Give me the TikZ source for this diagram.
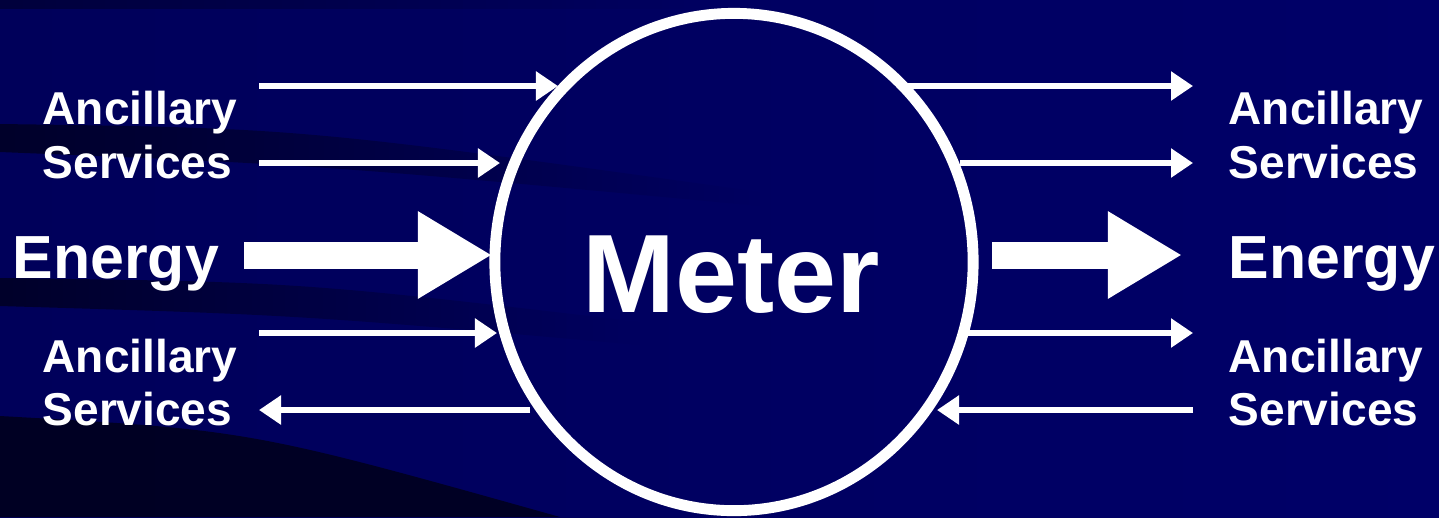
\documentclass[tikz,border=0pt]{standalone}
\usepackage{fontspec}
\setmainfont{Liberation Sans}
\usetikzlibrary{arrows.meta,shapes.geometric,fadings,positioning}
\definecolor{slidebgL}{HTML}{00005A}
\definecolor{slidebgR}{HTML}{000068}
\definecolor{streak}{HTML}{00001E}
\tikzset{
  lbl/.style={text=white,font=\bfseries\fontsize{13.1}{15}\selectfont,inner sep=0pt,anchor=base west},
  biglbl/.style={lbl,font=\bfseries\fontsize{17.3}{20}\selectfont},
  flow/.style={draw=white,line width=1.7pt,-{Triangle[length=2.2mm,width=2.8mm]}},
  bigflow/.style={draw=white,line width=2.7mm,-{Triangle[length=7.4mm,width=8.2mm]}},
}

\begin{document}
\begin{tikzpicture}[x=0.01cm,y=-0.01cm]

% background and streaks
\shade[left color=slidebgL,right color=slidebgR] (0,0) rectangle (1439,517);
\useasboundingbox (0,0) rectangle (1439,517);
\fill[streak,opacity=0.5,path fading=east] (0,0) rectangle (700,9);
\fill[streak,opacity=0.8,path fading=east] (0,124) .. controls (300,128) .. (760,192)
  -- (760,206) .. controls (320,165) .. (0,152) -- cycle;
\fill[streak,opacity=0.8,path fading=east] (0,278) .. controls (300,282) .. (640,322)
  -- (640,345) .. controls (300,315) .. (0,306) -- cycle;
\fill[streak,opacity=0.9] (0,416) .. controls (250,430) .. (560,517) -- (0,517) -- cycle;

% the meter
\node[ellipse,draw=white,line width=3.1pt,minimum width=4.78cm,minimum height=4.97cm,inner sep=0pt] (meter) at (734,262) {};
\node[text=white,font=\bfseries\fontsize{31.7}{36}\selectfont,inner sep=0pt,anchor=base] (mtext) at (731,312) {Meter};

% labels, left
\node[lbl] (ancL1) at (42,124) {Ancillary};
\node[lbl] (srvL1) at (42,178) {Services};
\node[biglbl] (enL) at (12,278) {Energy};
\node[lbl] (ancL2) at (42,372) {Ancillary};
\node[lbl] (srvL2) at (42,425) {Services};

% labels, right
\node[lbl] (ancR1) at (1228,124) {Ancillary};
\node[lbl] (srvR1) at (1228,178) {Services};
\node[biglbl] (enR) at (1228,278) {Energy};
\node[lbl] (ancR2) at (1228,372) {Ancillary};
\node[lbl] (srvR2) at (1228,425) {Services};

% arrow ends
\coordinate (inA) at (259,86);   \coordinate (inAm) at (558,86);
\coordinate (inB) at (259,163);  \coordinate (inBm) at (500,163);
\coordinate (inE) at (244,255);  \coordinate (inEm) at (492,255);
\coordinate (inC) at (259,333);  \coordinate (inCm) at (497,333);
\coordinate (inD) at (259,410);  \coordinate (inDm) at (530,410);
\coordinate (outA) at (1193,86);  \coordinate (outAm) at (904,86);
\coordinate (outB) at (1193,163); \coordinate (outBm) at (960,163);
\coordinate (outE) at (1182,255); \coordinate (outEm) at (992,255);
\coordinate (outC) at (1193,333); \coordinate (outCm) at (968,333);
\coordinate (outD) at (1193,410); \coordinate (outDm) at (937,410);

% flows
\draw[flow] (inA) -- (inAm);
\draw[flow] (inB) -- (inBm);
\draw[bigflow] (inE) -- (inEm);
\draw[flow] (inC) -- (inCm);
\draw[flow] (inDm) -- (inD);
\draw[flow] (outAm) -- (outA);
\draw[flow] (outBm) -- (outB);
\draw[bigflow] (outEm) -- (outE);
\draw[flow] (outCm) -- (outC);
\draw[flow] (outD) -- (outDm);

\end{tikzpicture}
\end{document}
